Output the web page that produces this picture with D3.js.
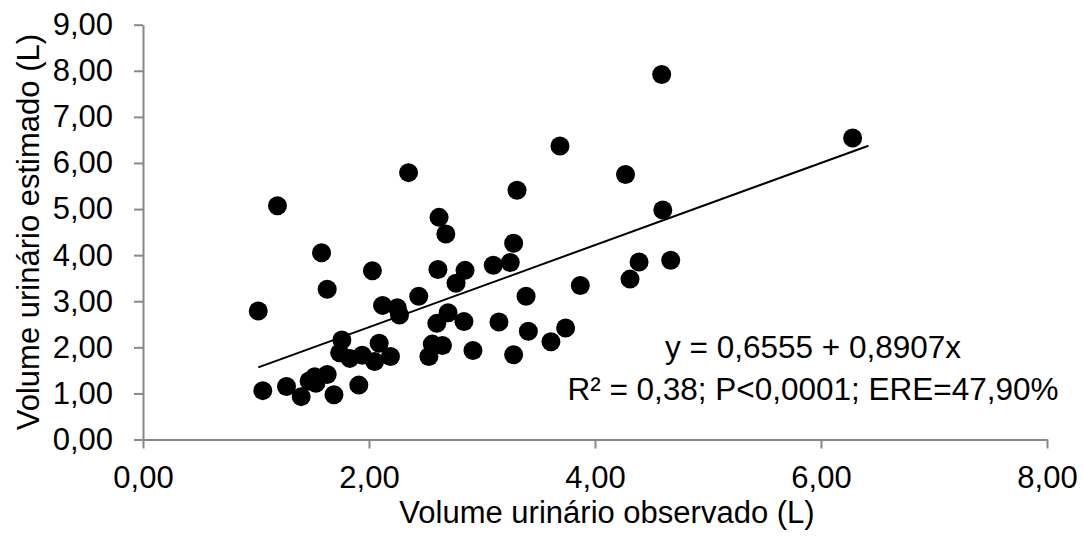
<!DOCTYPE html>
<html>
<head>
<meta charset="utf-8">
<script src="https://cdn.jsdelivr.net/npm/d3@7"></script>
<style>
  body { margin: 0; background: #fff; }
  svg text { font-family: "Liberation Sans", Arial, sans-serif; fill: #000; }
</style>
</head>
<body>
<div id="chart"></div>
<script>
// observed (x) vs estimated (y) urine volume, litres
const obsVolume = [1.02, 1.06, 1.19, 1.27, 1.40, 1.47, 1.52, 1.53, 1.58, 1.63, 1.63, 1.69, 1.74, 1.76,
  1.83, 1.91, 1.94, 2.03, 2.05, 2.09, 2.12, 2.19, 2.25, 2.27, 2.35, 2.44, 2.53, 2.56, 2.60, 2.61,
  2.62, 2.65, 2.68, 2.70, 2.77, 2.84, 2.85, 2.92, 3.10, 3.15, 3.25, 3.28, 3.28, 3.31, 3.39, 3.41,
  3.61, 3.69, 3.74, 3.87, 4.27, 4.31, 4.39, 4.59, 4.60, 4.67, 6.28];
const estVolume = [2.79, 1.06, 5.07, 1.15, 0.93, 1.27, 1.36, 1.22, 4.05, 3.26, 1.41, 0.97, 1.88, 2.16,
  1.76, 1.18, 1.83, 3.66, 1.69, 2.09, 2.91, 1.80, 2.86, 2.70, 5.79, 3.11, 1.80, 2.07, 2.52, 3.69,
  4.82, 2.04, 4.46, 2.75, 3.39, 2.56, 3.67, 1.93, 3.78, 2.55, 3.84, 4.26, 1.84, 5.41, 3.11, 2.35,
  2.12, 6.37, 2.42, 3.34, 5.75, 3.48, 3.85, 7.92, 4.98, 3.89, 6.54];

const xTicks = [0, 2, 4, 6, 8];
const yTicks = [0, 1, 2, 3, 4, 5, 6, 7, 8, 9];

// trendline y = a + b*x, drawn between these x values
const intercept = 0.6555;
const slope = 0.8907;
const trendRange = [1.02, 6.42];

const eqLines = ["y = 0,6555 + 0,8907x", "R² = 0,38; P<0,0001; ERE=47,90%"];
const xTitle = "Volume urinário observado (L)";
const yTitle = "Volume urinário estimado (L)";

const width = 1083, height = 538;
const fmt = d => d.toFixed(2).replace(".", ",");

const svg = d3.select("#chart").append("svg")
  .attr("width", width)
  .attr("height", height);

const x = d3.scaleLinear().domain([0, 8]).range([143, 1047]);
const y = d3.scaleLinear().domain([0, 9]).range([439.5, 24.7]);

// axes
const xAxis = svg.append("g")
  .attr("transform", `translate(0,${y(0)})`)
  .call(d3.axisBottom(x).tickValues(xTicks).tickFormat(fmt).tickSize(9).tickSizeOuter(0).tickPadding(17));
const yAxis = svg.append("g")
  .attr("transform", `translate(${x(0)},0)`)
  .call(d3.axisLeft(y).tickValues(yTicks).tickFormat(fmt).tickSize(9).tickSizeOuter(0).tickPadding(21));

[xAxis, yAxis].forEach(ax => {
  ax.select(".domain").attr("stroke", "#888").attr("stroke-width", 2);
  ax.selectAll(".tick line").attr("stroke", "#888").attr("stroke-width", 2);
  ax.selectAll(".tick text")
    .style("font-size", "31px")
    .style("font-family", '"Liberation Sans", Arial, sans-serif')
    .attr("fill", "#000");
});

// points
svg.append("g").selectAll("circle")
  .data(obsVolume.map((d, i) => [d, estVolume[i]]))
  .join("circle")
  .attr("cx", d => x(d[0]))
  .attr("cy", d => y(d[1]))
  .attr("r", 9.5)
  .attr("fill", "#000");

// trendline
svg.append("line")
  .attr("x1", x(trendRange[0]))
  .attr("y1", y(intercept + slope * trendRange[0]))
  .attr("x2", x(trendRange[1]))
  .attr("y2", y(intercept + slope * trendRange[1]))
  .attr("stroke", "#000")
  .attr("stroke-width", 2);

// equation label
svg.append("g").selectAll("text")
  .data(eqLines)
  .join("text")
  .attr("x", 813)
  .attr("y", (d, i) => 358 + i * 42)
  .attr("text-anchor", "middle")
  .style("font-size", "31.5px")
  .text(d => d);

// axis titles
svg.append("text")
  .attr("x", 607)
  .attr("y", 523)
  .attr("text-anchor", "middle")
  .style("font-size", "31px")
  .text(xTitle);

svg.append("text")
  .attr("transform", `translate(39,${(y(0) + y(9)) / 2}) rotate(-90)`)
  .attr("text-anchor", "middle")
  .style("font-size", "31px")
  .text(yTitle);
</script>
</body>
</html>
